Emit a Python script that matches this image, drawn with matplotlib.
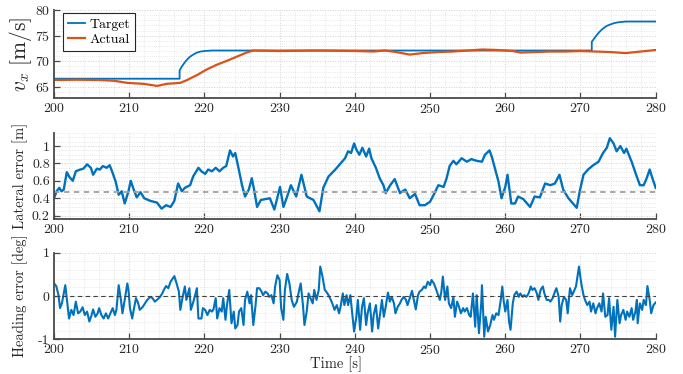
import matplotlib
matplotlib.use("Agg")
import matplotlib.pyplot as plt
from matplotlib.ticker import MultipleLocator, FixedLocator

plt.rcParams["font.family"] = ["cmr10", "DejaVu Serif"]
plt.rcParams["mathtext.fontset"] = "cm"
plt.rcParams["axes.formatter.use_mathtext"] = True

BLUE = "#0072BD"
ORANGE = "#D95319"

# ---- speed: target vs actual ----
target_t = [200, 216.7, 216.7, 217.0, 217.5, 218.0, 218.5, 219.0, 219.5, 220.0,
            221.0, 222.0, 271.5, 271.5, 272.0, 272.5, 273.0, 273.5, 274.0,
            274.5, 275.0, 276.0, 280]
target_v = [66.6, 66.6, 68.2, 69.0, 70.0, 70.8, 71.3, 71.7, 71.9, 72.0,
            72.1, 72.1, 72.1, 73.8, 74.8, 75.7, 76.4, 76.9, 77.2,
            77.45, 77.6, 77.75, 77.75]

actual_t = [200, 203, 206.1, 208, 209.7, 211.9, 213.7, 215.0, 216.8, 217.7,
            219.0, 220.3, 221.6, 223.0, 224.3, 225.6, 226.5, 230, 235, 240,
            242.5, 244, 245.5, 247.3, 249, 251, 253, 255, 257, 259, 261, 262,
            264, 266, 268, 270, 272, 274, 276, 278, 280]
actual_v = [66.35, 66.4, 66.35, 66.2, 65.8, 65.6, 65.2, 65.6, 65.8, 66.35,
            67.3, 68.4, 69.3, 70.1, 70.9, 71.7, 72.1, 72.0, 72.1, 72.0,
            71.9, 72.1, 71.8, 71.3, 71.6, 71.8, 71.9, 72.1, 72.3, 72.2, 72.0, 71.7,
            71.8, 71.9, 71.9, 72.0, 71.9, 71.8, 71.6, 71.9, 72.2]

# ---- lateral error ----
lat_t = [200, 200.35, 200.7, 201.0, 201.3, 201.7, 202.0, 202.5, 202.9, 203.5,
         203.9, 204.4, 204.9, 205.2, 205.7, 206.1, 206.5, 207.0, 207.4, 207.8,
         208.2, 208.6, 209.0, 209.4, 209.9, 210.2, 210.6, 211.0, 211.5, 212.0,
         212.8, 213.7, 214.3, 214.9, 215.5, 216.0, 216.5, 217.0, 217.4, 218.1,
         218.5, 219.2, 219.6, 220.1, 220.5, 221.0, 221.5, 222.0, 222.5, 222.9,
         223.4, 223.8, 224.1, 224.4, 225.0, 225.4, 225.9, 226.3, 226.6, 227.0,
         227.5, 228.1, 228.7, 229.3, 230.05, 230.5, 231.0, 231.5, 232.2, 232.9,
         233.6, 234.5, 235.3, 235.8, 236.5, 237.4, 238.0, 238.7, 239.1, 239.5,
         239.9, 240.2, 240.6, 241.0, 241.5, 241.9, 242.2, 242.8, 243.3, 243.8,
         244.1, 244.7, 245.3, 246.0, 246.7, 247.3, 248.0, 248.6, 249.3, 250.0,
         250.6, 251.1, 251.8, 252.2, 252.6, 253.1, 253.5, 254.2, 254.9, 255.5,
         256.2, 256.9, 257.3, 257.9, 258.2, 258.6, 259.1, 259.5, 260.0, 260.3,
         260.8, 261.3, 261.7, 262.4, 263.3, 263.9, 264.6, 265.3, 266.0, 266.6,
         267.2, 267.7, 268.4, 269.0, 269.5, 269.9, 270.4, 271.0, 271.7, 272.4,
         273.0, 273.5, 273.9, 274.4, 274.8, 275.3, 275.8, 276.1, 276.8, 277.4,
         277.9, 278.4, 278.8, 279.2, 279.6, 280.0]
lat_e = [0.40, 0.48, 0.52, 0.48, 0.50, 0.70, 0.65, 0.60, 0.71, 0.73,
         0.74, 0.79, 0.75, 0.67, 0.74, 0.73, 0.77, 0.75, 0.78, 0.69,
         0.59, 0.44, 0.48, 0.34, 0.48, 0.60, 0.50, 0.41, 0.47, 0.40,
         0.37, 0.35, 0.28, 0.32, 0.30, 0.37, 0.57, 0.48, 0.52, 0.55,
         0.65, 0.75, 0.71, 0.68, 0.73, 0.71, 0.75, 0.71, 0.75, 0.77,
         0.95, 0.88, 0.92, 0.80, 0.55, 0.42, 0.50, 0.63, 0.50, 0.30,
         0.38, 0.39, 0.40, 0.27, 0.53, 0.30, 0.42, 0.55, 0.42, 0.67,
         0.42, 0.38, 0.25, 0.52, 0.65, 0.73, 0.79, 0.86, 0.94, 0.92,
         1.03, 0.96, 0.90, 0.98, 0.88, 0.97, 0.86, 0.75, 0.63, 0.55,
         0.46, 0.55, 0.62, 0.46, 0.50, 0.40, 0.45, 0.32, 0.32, 0.36,
         0.46, 0.55, 0.53, 0.63, 0.77, 0.83, 0.79, 0.86, 0.82, 0.85,
         0.83, 0.82, 0.90, 0.95, 0.88, 0.75, 0.59, 0.40, 0.53, 0.67,
         0.34, 0.34, 0.42, 0.39, 0.30, 0.42, 0.41, 0.57, 0.55, 0.57,
         0.67, 0.50, 0.40, 0.34, 0.29, 0.48, 0.67, 0.73, 0.78, 0.82,
         0.92, 0.98, 1.09, 1.03, 0.94, 1.00, 0.92, 0.97, 0.82, 0.67,
         0.55, 0.55, 0.63, 0.73, 0.62, 0.52]

# ---- heading error ----
head_t = [200.0, 200.3, 200.6, 200.8, 201.05, 201.3, 201.5, 201.8, 202.0, 202.3,
          202.6, 202.9, 203.2, 203.5, 203.8, 204.1, 204.4, 204.7, 205.0, 205.2,
          205.5, 205.8, 206.0, 206.3, 206.6, 206.9, 207.2, 207.5, 207.8, 208.1,
          208.3, 208.6, 208.9, 209.1, 209.4, 209.75, 209.9, 210.1, 210.4, 210.6,
          210.9, 211.2, 211.4, 211.8, 212.1, 212.4, 212.8, 213.1, 213.4, 213.7,
          214.1, 214.4, 214.6, 214.9, 215.2, 215.5, 216.0, 216.3, 216.6, 216.8,
          217.1, 217.4, 217.6, 218.0, 218.2, 218.6, 219.0, 219.2, 219.6, 219.8,
          220.1, 220.4, 220.7, 221.0, 221.2, 221.5, 221.7, 222.0, 222.3, 222.5,
          222.8, 223.0, 223.3, 223.6, 223.9, 224.1, 224.4, 224.6, 224.9, 225.2,
          225.4, 225.7, 226.0, 226.2, 226.5, 226.8, 227.0, 227.3, 227.6, 227.8,
          228.1, 228.4, 228.6, 228.9, 229.2, 229.4, 229.7, 230.0, 230.2, 230.5,
          230.7, 231.0, 231.3, 231.6, 231.9, 232.3, 232.5, 232.8, 233.1, 233.3,
          233.6, 233.85, 234.1, 234.4, 234.6, 234.9, 235.2, 235.4, 235.7, 236.0,
          236.2, 236.5, 236.8, 237.0, 237.3, 237.6, 237.9, 238.1, 238.4, 238.6,
          238.9, 239.1, 239.4, 239.65, 239.9, 240.2, 240.4, 240.7, 240.95, 241.2,
          241.5, 241.7, 242.0, 242.3, 242.5, 242.8, 243.1, 243.3, 243.6, 243.85,
          244.1, 244.4, 244.65, 244.9, 245.2, 245.4, 245.7, 246.0, 246.2, 246.5,
          246.8, 247.0, 247.3, 247.6, 247.8, 248.1, 248.4, 248.6, 248.9, 249.2,
          249.4, 249.7, 250.0, 250.2, 250.5, 250.75, 251.0, 251.3, 251.5, 251.7,
          252.0, 252.3, 252.5, 252.8, 253.1, 253.3, 253.6, 253.85, 254.1, 254.4,
          254.6, 254.9, 255.2, 255.4, 255.7, 256.0, 256.2, 256.5, 256.8, 256.9,
          257.2, 257.4, 257.7, 258.0, 258.3, 258.5, 258.8, 259.1, 259.4, 259.6,
          259.8, 260.0, 260.3, 260.5, 260.7, 261.0, 261.2, 261.5, 261.8, 262.0,
          262.3, 262.5, 262.8, 263.1, 263.4, 263.6, 263.9, 264.2, 264.4, 264.7,
          265.0, 265.2, 265.5, 265.8, 266.0, 266.3, 266.6, 266.8, 267.1, 267.3,
          267.5, 267.8, 268.1, 268.3, 268.6, 268.9, 269.1, 269.4, 269.6, 269.8,
          270.1, 270.4, 270.6, 270.9, 271.2, 271.4, 271.7, 272.0, 272.2, 272.5,
          272.8, 273.0, 273.3, 273.6, 273.8, 274.1, 274.4, 274.6, 274.9, 275.2,
          275.4, 275.7, 276.0, 276.2, 276.5, 276.8, 277.0, 277.3, 277.5, 277.6,
          277.9, 278.2, 278.4, 278.7, 278.9, 279.2, 279.4, 279.7, 280.0]
head_e = [0.29, 0.23, 0.02, -0.28, -0.17, 0.06, 0.25, -0.21, -0.52, -0.32,
          -0.44, -0.13, -0.40, -0.36, -0.26, -0.44, -0.36, -0.59, -0.44, -0.31,
          -0.48, -0.40, -0.28, -0.44, -0.52, -0.40, -0.52, -0.40, -0.28, -0.44,
          -0.32, 0.25, -0.09, -0.40, -0.09, 0.29, 0.14, -0.28, -0.52, -0.32,
          -0.05, -0.17, -0.32, -0.25, -0.17, -0.09, -0.02, -0.05, -0.13, -0.09,
          -0.02, 0.06, 0.14, 0.23, 0.18, 0.33, 0.46, 0.29, 0.10, -0.32,
          -0.02, 0.22, -0.09, 0.18, -0.32, -0.09, 0.18, -0.52, -0.52, -0.28,
          -0.32, -0.44, -0.32, -0.36, -0.31, -0.05, -0.52, -0.28, -0.36, -0.05,
          -0.55, -0.21, 0.14, -0.63, -0.36, -0.75, -0.67, -0.36, -0.28, -0.67,
          -0.09, 0.10, -0.17, 0.02, -0.67, -0.21, 0.18, 0.18, 0.10, 0.02,
          0.10, 0.06, -0.02, 0.02, -0.17, 0.22, 0.48, 0.37, -0.28, -0.55,
          0.14, 0.51, 0.29, -0.09, -0.25, -0.13, 0.06, 0.29, -0.21, -0.67,
          -0.36, 0.06, -0.05, -0.17, 0.14, -0.09, 0.14, 0.68, 0.45, 0.14,
          0.10, 0.02, -0.09, -0.17, -0.32, -0.21, -0.40, -0.25, 0.06, -0.21,
          0.02, -0.21, 0.02, -0.40, -0.82, -0.48, -0.09, -0.78, -0.25, -0.05,
          -0.67, -0.40, -0.17, -0.82, -0.44, -0.21, -0.75, -0.48, -0.09, -0.48,
          -0.25, 0.08, -0.13, -0.02, -0.17, -0.40, -0.25, -0.17, -0.09, -0.02,
          -0.09, -0.21, -0.05, 0.12, -0.05, -0.31, 0.02, 0.10, 0.14, 0.22,
          0.18, 0.33, 0.25, 0.37, 0.29, 0.18, 0.06, -0.09, 0.10, 0.45,
          -0.09, 0.22, -0.17, -0.28, -0.02, -0.48, -0.13, -0.25, -0.40, -0.28,
          -0.36, -0.28, -0.44, -0.48, 0.06, -0.71, 0.02, -0.86, -0.17, 0.25,
          -0.94, -0.48, -0.82, -0.67, -0.44, -0.55, -0.40, -0.44, -0.09, 0.22,
          -0.13, -0.36, -0.09, -0.59, -0.78, -0.17, 0.02, 0.10, -0.02, 0.06,
          -0.02, 0.02, -0.02, 0.06, 0.22, 0.14, 0.18, 0.06, -0.09, 0.14,
          0.22, 0.06, -0.09, -0.09, -0.13, -0.05, 0.10, 0.18, -0.02, -0.59,
          -0.21, -0.02, -0.09, -0.40, 0.18, 0.02, 0.10, 0.22, 0.45, 0.68,
          0.29, 0.02, -0.09, -0.21, -0.13, -0.36, -0.17, -0.40, -0.28, -0.17,
          -0.36, 0.06, -0.48, -0.44, -0.05, -0.78, -0.25, -0.94, -0.09, -0.63,
          -0.44, -0.32, -0.55, -0.36, -0.48, -0.28, -0.55, -0.36, -0.09, -0.63,
          -0.17, -0.32, -0.09, -0.21, 0.23, -0.09, -0.40, -0.21, -0.15]

lat_ref = 0.475
head_ref = 0.0

W, H = 683, 374
fig = plt.figure(figsize=(W / 100, H / 100), dpi=100)


def px_axes(left, top, right, bottom):
    return fig.add_axes([left / W, 1 - bottom / H, (right - left) / W, (bottom - top) / H])


ax1 = px_axes(54, 10, 655.7, 97.7)
ax2 = px_axes(54, 133, 655.7, 218.7)
ax3 = px_axes(54, 252.7, 655.7, 339.3)
AX_W = 601.7

TICK_FS = 10
LABEL_FS = 10.5

for ax in (ax1, ax2, ax3):
    ax.set_xlim(200, 280)
    ax.xaxis.set_major_locator(MultipleLocator(10))
    ax.xaxis.set_minor_locator(MultipleLocator(2))
    for s in ("top", "right"):
        ax.spines[s].set_visible(False)
    for s in ("left", "bottom"):
        ax.spines[s].set_color("#4a4a4a")
        ax.spines[s].set_linewidth(1.3)
    ax.tick_params(which="major", direction="in", length=4, width=0.9,
                   color="#4a4a4a", labelsize=TICK_FS, pad=3, labelcolor="#262626")
    ax.tick_params(which="minor", direction="in", length=0)
    ax.grid(which="major", ls=":", lw=0.7, color="#cfcfcf")
    ax.grid(which="minor", ls=":", lw=0.6, color="#e0e0e0")
    ax.set_axisbelow(True)

# speed panel
ax1.plot(target_t, target_v, color=BLUE, lw=1.3, label="Target")
ax1.plot(actual_t, actual_v, color=ORANGE, lw=1.6, label="Actual")
ax1.set_ylim(62.9, 80)
ax1.yaxis.set_major_locator(FixedLocator([65, 70, 75, 80]))
ax1.yaxis.set_minor_locator(MultipleLocator(1))
ax1.set_ylabel(r"$v_x\ [\mathrm{m/s}]$", fontsize=15.5, color="#262626")
ax1.yaxis.set_label_coords(-(54 - 34) / AX_W, 0.5)
leg = ax1.legend(loc="upper left", bbox_to_anchor=(8.7 / AX_W, 1 - 3.3 / 87.7),
                 borderaxespad=0, fontsize=TICK_FS, frameon=True, fancybox=False,
                 edgecolor="#262626", framealpha=1, handlelength=1.25,
                 handletextpad=0.3, labelspacing=0.15, borderpad=0.35)
leg.get_frame().set_linewidth(0.8)

# lateral error panel
ax2.plot(lat_t, lat_e, color=BLUE, lw=1.7)
ax2.axhline(lat_ref, color="#a0a0a0", ls=(0, (3, 2.5)), lw=1.3)
ax2.set_ylim(0.165, 1.15)
ax2.yaxis.set_major_locator(FixedLocator([0.2, 0.4, 0.6, 0.8, 1.0]))
ax2.set_yticklabels(["0.2", "0.4", "0.6", "0.8", "1"])
ax2.yaxis.set_minor_locator(MultipleLocator(0.05))
ax2.set_ylabel("Lateral error [m]", fontsize=LABEL_FS, color="#262626")
ax2.yaxis.set_label_coords(-(54 - 28) / AX_W, 0.5)

# heading error panel
ax3.plot(head_t, head_e, color=BLUE, lw=1.5)
ax3.axhline(head_ref, color="#404040", ls=(0, (4, 3)), lw=0.8)
ax3.set_ylim(-1, 1)
ax3.yaxis.set_major_locator(FixedLocator([-1, 0, 1]))
ax3.set_yticklabels(["-1", "0", "1"])
ax3.yaxis.set_minor_locator(MultipleLocator(0.2))
ax3.set_ylabel("Heading error [deg]", fontsize=LABEL_FS, color="#262626")
ax3.yaxis.set_label_coords(-(54 - 28) / AX_W, 0.5)

fig.text(336 / W, 1 - 364 / H, "Time [s]", ha="center", va="center",
         fontsize=LABEL_FS, color="#262626")

fig.savefig("out.png", dpi=100)
